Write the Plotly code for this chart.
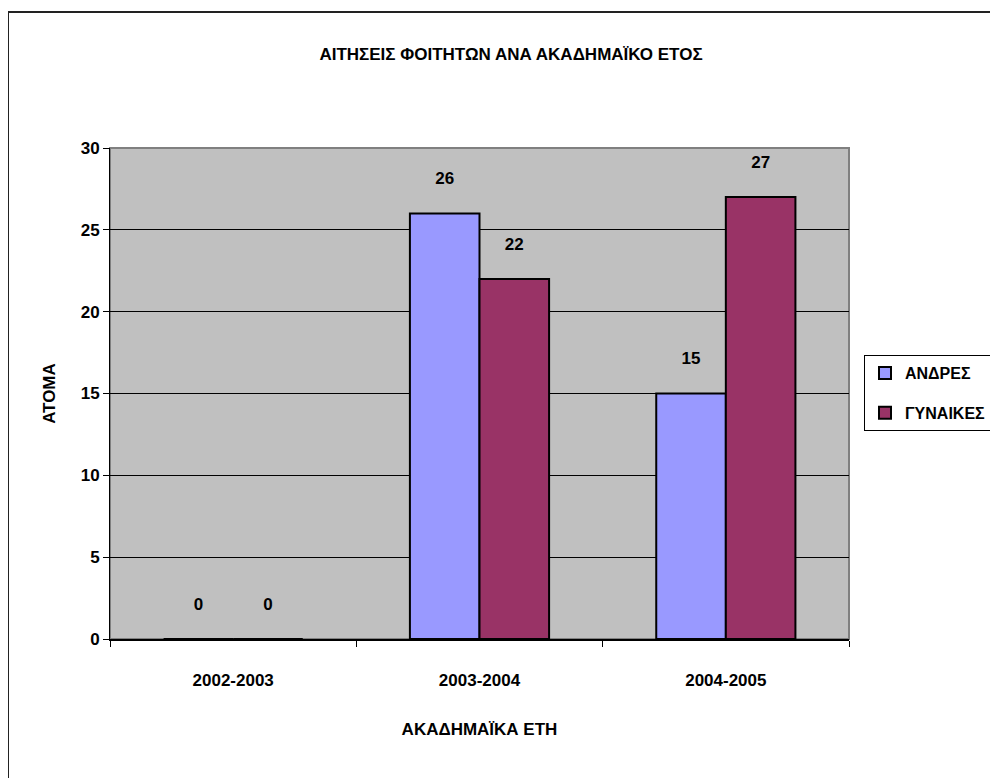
import plotly.graph_objects as go

categories = ["2002-2003", "2003-2004", "2004-2005"]
men = [0, 26, 15]
women = [0, 22, 27]
series_names = ["ΑΝΔΡΕΣ", "ΓΥΝΑΙΚΕΣ"]
y_ticks = [0, 5, 10, 15, 20, 25, 30]

FONT = "Liberation Sans, Arial, sans-serif"
FS = 17
OFF = 8  # page body margin
W, H = 1060 - OFF, 778 - OFF
L, R, T, B = 110 - OFF, 849 - OFF, 148 - OFF, 639 - OFF  # plot area in figure pixels

def px_x(p):
    return (p - OFF - L) / (R - L)

def px_y(p):
    return (B - (p - OFF)) / (B - T)

def bold(size=FS):
    return dict(family=FONT, size=size, color="black", weight="bold")

fig = go.Figure()
for name, vals, color, grp in [(series_names[0], men, "#9999FF", "a"),
                               (series_names[1], women, "#993366", "b")]:
    fig.add_trace(go.Bar(
        x=categories, y=vals, name=name, legendgroup=grp,
        marker=dict(color=color, line=dict(color="black", width=2)),
        text=vals, texttemplate="%{y}<br> ",
        textposition="outside", textfont=bold(),
        cliponaxis=False,
    ))

fig.update_layout(
    width=W, height=H, autosize=False,
    margin=dict(l=L, r=W - R, t=T, b=H - B, pad=0, autoexpand=False),
    paper_bgcolor="white", plot_bgcolor="#C0C0C0",
    barmode="group", bargap=0.435, bargroupgap=0,
    font=bold(),
    title=dict(text="ΑΙΤΗΣΕΙΣ ΦΟΙΤΗΤΩΝ ΑΝΑ ΑΚΑΔΗΜΑΪΚΟ ΕΤΟΣ",
               xref="paper", yref="container", x=px_x(511), y=1 - (54 - OFF) / H,
               xanchor="center", yanchor="middle", font=bold()),
    legend=dict(x=px_x(864), y=px_y(355), xanchor="left", yanchor="top",
                bgcolor="white", bordercolor="black", borderwidth=1,
                font=bold(16), tracegroupgap=16, traceorder="grouped"),
    xaxis=dict(type="category", tickson="boundaries", ticks="outside", ticklen=6,
               tickcolor="black", tickwidth=1, showline=True, linecolor="black", linewidth=2,
               showgrid=False, ticklabelstandoff=25,
               title=dict(text="ΑΚΑΔΗΜΑΪΚΑ ΕΤΗ", standoff=34, font=bold()),
               tickfont=bold()),
    yaxis=dict(range=[0, 30], tickvals=y_ticks, ticks="outside", ticklen=6,
               tickcolor="black", tickwidth=1, showline=True, linecolor="black", linewidth=1,
               showgrid=True, gridcolor="black", gridwidth=1, zeroline=False,
               title=dict(text="ΑΤΟΜΑ", standoff=20, font=bold()),
               tickfont=bold()),
    shapes=[
        dict(type="rect", xref="paper", yref="paper", x0=0, x1=1, y0=0, y1=1,
             line=dict(color="#808080", width=2), layer="below"),
        dict(type="line", xref="paper", yref="paper",
             x0=px_x(8), x1=px_x(8), y0=px_y(800), y1=px_y(12),
             line=dict(color="#222222", width=2), layer="above"),
        dict(type="line", xref="paper", yref="paper",
             x0=px_x(8), x1=px_x(1100), y0=px_y(12), y1=px_y(12),
             line=dict(color="#222222", width=2), layer="above"),
    ],
)

fig.write_html("out.html",
               post_script="document.body.style.overflow='hidden';"
                           "document.documentElement.style.overflow='hidden';")
